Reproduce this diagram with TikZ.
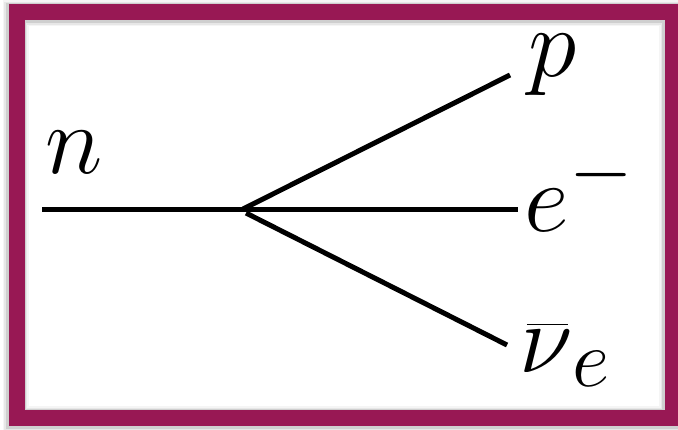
\documentclass[tikz,border=0pt]{standalone}
\usepackage{tikz}
\usetikzlibrary{
	positioning,
	calc
}
\definecolor{granate}{RGB}{152,24,84}

\begin{document}
\begin{tikzpicture}[x=0.5pt, y=-0.5pt,
  particula/.style={inner sep=0pt, anchor=base west,
    font=\Huge, scale=1.97},
  linea/.style={line width=2.5pt},
  marco/.style={draw=granate, line width=8pt}
]
\useasboundingbox (0,0) rectangle (678,429);
% sombra del marco
\foreach \d/\o in {5/0.04, 3.5/0.06, 2/0.10}
  \draw[line width=8pt+\d pt, black, opacity=\o]
    (15.5,13) rectangle (672,419);
\draw[marco] (16.5,12) rectangle (673,418);

% particulas
\node[particula] (n) at (45,173) {$n$};
\node[particula] (p) at (528,76) {$p$};
\node[particula] (e) at (524,231) {$e^-$};
\node[particula] (nu) at (519,372)
  {$\mkern1.3mu\overline{\mkern-1.3mu\nu\mkern-1mu}_{\mkern1mu e}$};

\coordinate (inicio) at (42,209);
\coordinate (vertice) at (243,209);
\coordinate (vnu) at (246,213);
\coordinate (fp) at (510,75);
\coordinate (fe) at (518,209);
\coordinate (fnu) at (507,345);

\draw[linea] (inicio) -- (vertice);
\draw[linea] (vertice) -- (fp);
\draw[linea] (vertice) -- (fe);
\draw[linea] (vnu) -- (fnu);
\end{tikzpicture}
\end{document}
